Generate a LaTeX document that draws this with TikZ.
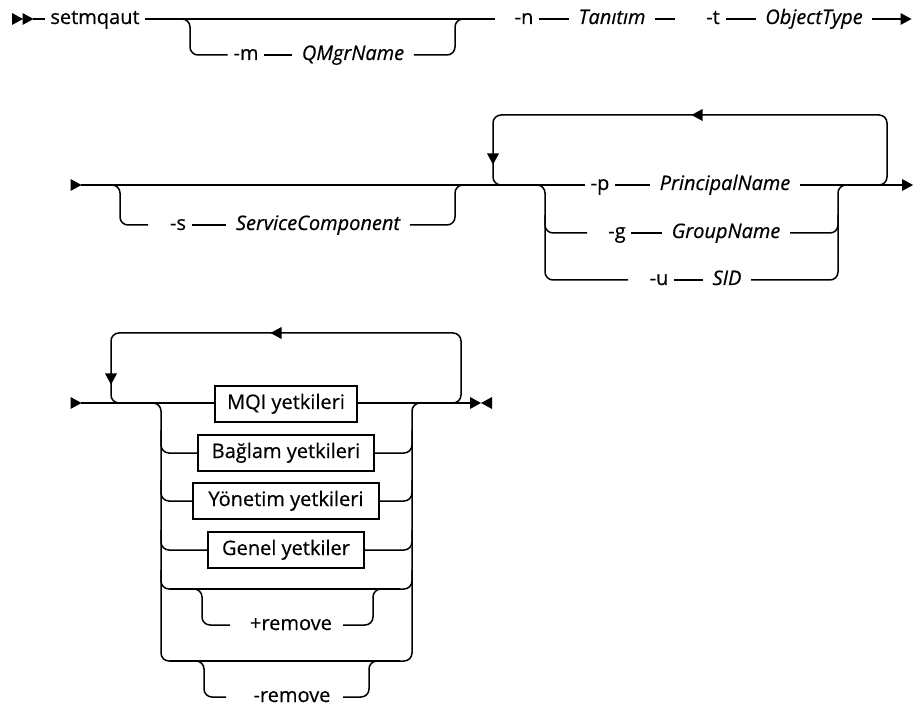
\documentclass[tikz,border=0pt]{standalone}
\usepackage{fontspec}
\setmainfont{Open Sans}[FakeBold=0.5]
\begin{document}
\begin{tikzpicture}[x=1pt,y=-1pt,line width=1.5pt,
  base/.style={inner ysep=0pt,text height=15pt,text depth=5pt,font=\fontsize{20}{24}\selectfont},
  kw/.style={base,inner xsep=5pt},
  var/.style={base,inner xsep=9pt,font=\fontsize{20}{24}\selectfont\itshape},
  box/.style={base,draw,line width=1.3pt,inner xsep=0pt,minimum height=36pt},
  rr/.style={rounded corners=8pt},
  tri/.pic={\fill (-5.5,-6) -- (5.5,0) -- (-5.5,6) -- cycle;}]
\useasboundingbox (0,0) rectangle (913,708);

% ---------- row 1 ----------
\pic at (17.5,19) {tri};
\pic at (28,19) {tri};
\coordinate (r1s) at (33,19);
\coordinate (r1a) at (495,19);
\node[kw] (setm) at (95,19) {setmqaut};
\node[kw] (optm) at (246,55) {-m};
\node[var] (qmgr) at (353,55) {QMgrName};
\node[kw] (optn) at (524,19) {-n};
\node[var] (tan) at (612,19) {Tanıtım};
\node[kw] (optt) at (713,19) {-t};
\node[var] (otype) at (814,19) {ObjectType};
\draw (r1s) -- (setm.west);
\draw (setm.east) -- (r1a);
\draw[rr] (175,19) -| (190,55) -- (optm.west);
\draw (optm.east) -- (qmgr.west);
\draw[rr] (qmgr.east) -| (455,19) -- (470,19);
\draw (optn.east) -- (tan.west);
\draw (tan.east) -- ++(20,0);
\draw (optt.east) -- (otype.west);
\coordinate (r1e) at (901,19);
\draw (otype.east) -- (r1e);
\pic at (906,19) {tri};

% ---------- row 2 ----------
\pic at (76,185) {tri};
\coordinate (r2s) at (81,185);
\node[kw] (opts) at (178,225) {-s};
\node[var] (svc) at (318,225) {ServiceComponent};
\node[kw] (optp) at (600,185) {-p};
\node[var] (princ) at (725,185) {PrincipalName};
\node[kw] (optg) at (617,233) {-g};
\node[var] (grp) at (726,233) {GroupName};
\node[kw] (optu) at (659,280) {-u};
\node[var] (sid) at (727,280) {SID};
\draw (r2s) -- (optp.west);
\draw[rr] (108,185) -| (120,225) -- (148,225);
\draw (opts.east) -- (svc.west);
\draw[rr] (svc.east) -| (455,185) -- (470,185);
% repeat loop
\draw[rr] (870,185) -| (887,115) -| (493,185) -- (510,185);
\pic[rotate=180] at (697,115) {tri};
\pic[rotate=-90] at (493,159) {tri};
% choice
\draw[rr] (532,185) -| (545,280) -- (628,280);
\draw[rr] (545,215) |- (587,233);
\draw (optp.east) -- (princ.west);
\draw (optg.east) -- (grp.west);
\draw (optu.east) -- (sid.west);
\coordinate (r2e) at (902,185);
\draw (princ.east) -- (r2e);
\pic at (907.5,185) {tri};
\draw[rr] (sid.east) -| (838,185) -- (852,185);
\draw[rr] (grp.east) -| (838,215);

% ---------- row 3 ----------
\pic at (76,403) {tri};
\coordinate (r3s) at (81,403);
\coordinate (r3e) at (470,403);
\node[box,minimum width=142pt] (mqi) at (286,404) {MQI yetkileri};
\node[box,minimum width=176pt] (bag) at (286,453) {Bağlam yetkileri};
\node[box,minimum width=186pt] (yon) at (286,501) {Yönetim yetkileri};
\node[box,minimum width=156pt] (gen) at (286,550) {Genel yetkiler};
\node[kw] (plusr) at (291,625) {+remove};
\node[kw] (minr) at (292,697) {-remove};
\draw (r3s) -- (mqi.west |- r3s);
\draw (mqi.east |- r3e) -- (r3e);
% repeat loop
\draw[rr] (445,403) -| (461,333) -| (111,403) -- (130,403);
\pic[rotate=180] at (276,333) {tri};
\pic[rotate=-90] at (111,379) {tri};
% end marker
\pic at (475.5,403) {tri};
\pic[rotate=180] at (486.5,403) {tri};
% choice left
\draw[rr] (148,403) -| (161,661) -- (180,661);
\draw[rr] (161,430) |- (bag.west);
\draw[rr] (161,480) |- (yon.west);
\draw[rr] (161,530) |- (gen.west);
\draw[rr] (161,570) |- (180,589);
% choice right
\draw[rr] (370,661) -| (412,403) -- (425,403);
\draw[rr] (bag.east) -| (412,430);
\draw[rr] (yon.east) -| (412,480);
\draw[rr] (gen.east) -| (412,530);
\draw[rr] (380,589) -| (412,570);
% empty rows
\draw (170,589) -- (400,589);
\draw (170,661) -- (400,661);
% +remove
\draw[rr] (190,589) -| (202,625) -- (230,625);
\draw[rr] (343,625) -| (373,589) -- (385,589);
% -remove
\draw[rr] (192,661) -| (204,697) -- (226,697);
\draw[rr] (343,697) -| (369,661) -- (380,661);
\end{tikzpicture}
\end{document}
